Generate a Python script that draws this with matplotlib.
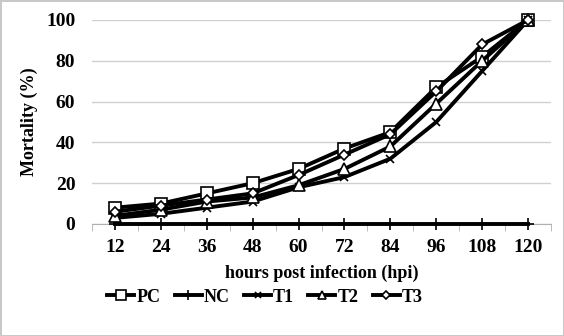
import matplotlib
matplotlib.use("Agg")
import matplotlib.pyplot as plt

hours = [12, 24, 36, 48, 60, 72, 84, 96, 108, 120]
pc = [8, 10, 15, 20, 27, 37, 45, 67, 82, 100]
nc = [0, 0, 0, 0, 0, 0, 0, 0, 0, 0]
t1 = [3, 5, 8, 11, 18, 23, 32, 50, 75, 100]
t2 = [4, 7, 11, 13, 19, 27, 38, 59, 80, 100]
t3 = [6, 9, 12, 15, 24, 34, 44, 65, 88, 100]

plt.rcParams["font.family"] = ["Liberation Serif", "DejaVu Serif"]
plt.rcParams["font.weight"] = "bold"
plt.rcParams["axes.labelweight"] = "bold"

fig = plt.figure(figsize=(5.64, 3.36), dpi=100)
fig.patch.set_edgecolor("#c8c8c8")
fig.patch.set_linewidth(2)
ax = fig.add_axes([92 / 564, 1 - 224 / 336, (551 - 92) / 564, (224 - 20) / 336])

pos = list(range(len(hours)))
series = [
    ("PC", pc, "s", 9),
    ("NC", nc, "+", 9),
    ("T1", t1, "x", 6),
    ("T2", t2, "^", 8),
    ("T3", t3, "D", 5),
]
for name, vals, mk, ms in series:
    ax.plot(pos, vals, color="black", lw=2.8, marker=mk, ms=ms,
            mfc="white", mec="black", mew=1.2, label=name, clip_on=False,
            zorder=3)

ax.set_xlim(-0.5, len(hours) - 0.5)
ax.set_ylim(0, 100)
ax.set_yticks([0, 20, 40, 60, 80, 100])
ax.set_xticks(pos)
ax.set_xticklabels([str(h) for h in hours])
ax.set_xticks([p + 0.5 for p in range(-1, len(hours))], minor=True)
ax.tick_params(axis="x", which="major", length=0, labelsize=14, pad=11)
ax.tick_params(axis="x", which="minor", length=5, color="#b0b0b0")
ax.tick_params(axis="y", length=0, labelsize=14, pad=12)
ax.grid(axis="y", color="#d0d0d0", lw=1)
ax.set_axisbelow(True)
for s in ["top", "right", "left"]:
    ax.spines[s].set_visible(False)
ax.spines["bottom"].set_color("#b0b0b0")

ax.set_xlabel("hours post infection (hpi)", fontsize=13, labelpad=6)
ax.set_ylabel("Mortality (%)", fontsize=13, labelpad=6)

leg = ax.legend(loc="center", bbox_to_anchor=(265 / 564, 1 - 297 / 336),
                bbox_transform=fig.transFigure, ncol=5, frameon=False,
                fontsize=13, handlelength=1.5, columnspacing=0.8,
                handletextpad=0.1, markerscale=0.75)

fig.savefig("out.png", dpi=100)
